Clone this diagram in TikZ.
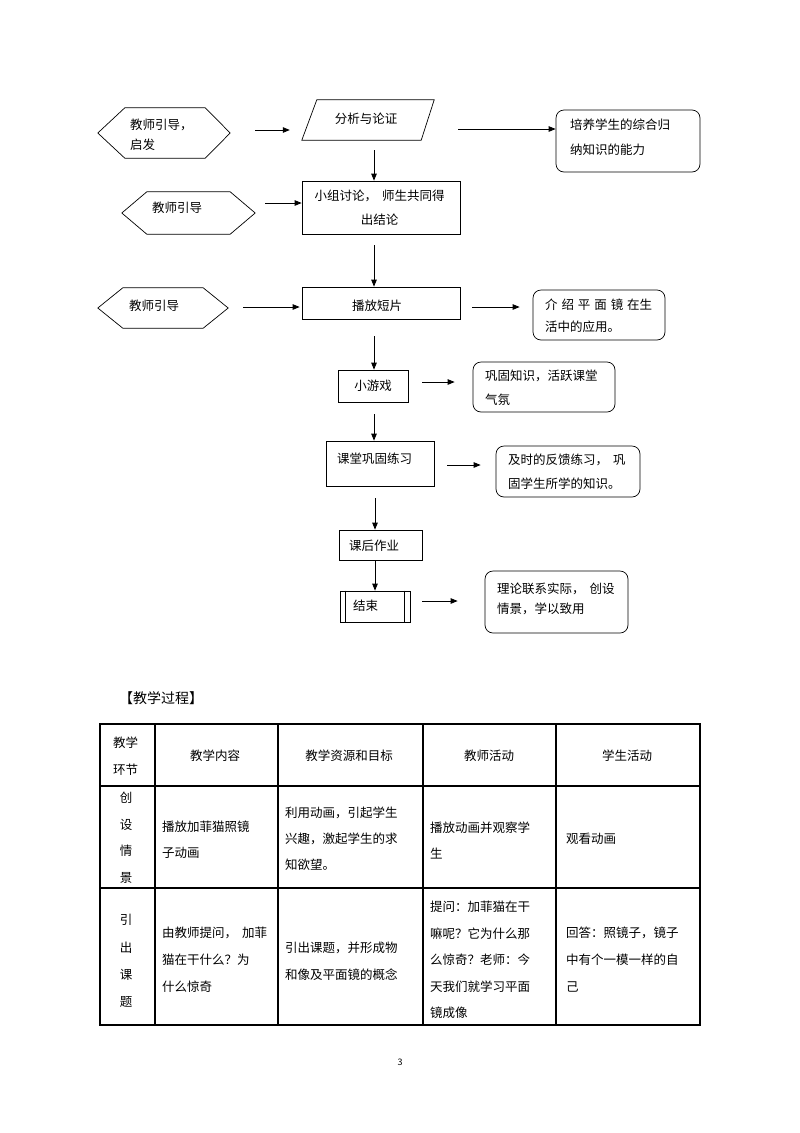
\documentclass[tikz,border=0pt]{standalone}
\usepackage{fontspec}
\setmainfont{Noto Sans CJK SC}
\usetikzlibrary{arrows.meta,calc}
\begin{document}
\begin{tikzpicture}[x=1pt,y=-1pt,
  ln/.style={line width=0.7pt},
  arr/.style={line width=0.8pt,-{Triangle[length=7pt,width=5.5pt]}},
  shp/.style={inner sep=0pt},
  sq/.style={draw,line width=0.7pt,inner sep=0pt},
  rbox/.style={draw,line width=0.7pt,rounded corners=8pt,inner sep=0pt},
  tab/.style={line width=1.3pt},
  t/.style={inner sep=0pt,anchor=west,align=left,font=\fontsize{12.5}{24}\selectfont},
  tc/.style={inner sep=0pt,align=center,font=\fontsize{12.5}{24}\selectfont}]
\useasboundingbox (0,0) rectangle (800,1133);
\fill[white] (0,0) rectangle (800,1133);

% ---------- shapes ----------
\node[shp,minimum width=132pt,minimum height=50pt] (hex1) at (164,133) {};
\draw[ln] (hex1.west) -- ($(hex1.north west)+(27,0)$) -- ($(hex1.north east)+(-25,0)$) -- (hex1.east) -- ($(hex1.south east)+(-25,0)$) -- ($(hex1.south west)+(27,0)$) -- cycle;

\node[shp,minimum width=132pt,minimum height=40pt] (para) at (368,120) {};
\draw[ln] ($(para.north west)+(15,0)$) -- (para.north east) -- ($(para.south east)+(-13,0)$) -- (para.south west) -- cycle;

\node[rbox,minimum width=144pt,minimum height=62pt] (r1) at (628,141) {};
\node[sq,minimum width=158pt,minimum height=53pt] (b2) at (381,207.5) {};

\node[shp,minimum width=133pt,minimum height=42pt] (hex2) at (188.5,213) {};
\draw[ln] (hex2.west) -- ($(hex2.north west)+(25,0)$) -- ($(hex2.north east)+(-25,0)$) -- (hex2.east) -- ($(hex2.south east)+(-25,0)$) -- ($(hex2.south west)+(25,0)$) -- cycle;

\node[sq,minimum width=158pt,minimum height=32pt] (b3) at (381,303) {};

\node[shp,minimum width=130pt,minimum height=40pt] (hex3) at (163,308) {};
\draw[ln] (hex3.west) -- ($(hex3.north west)+(25,0)$) -- ($(hex3.north east)+(-25,0)$) -- (hex3.east) -- ($(hex3.south east)+(-25,0)$) -- ($(hex3.south west)+(25,0)$) -- cycle;

\node[rbox,minimum width=132pt,minimum height=50pt] (r2) at (599,315) {};
\node[sq,minimum width=70pt,minimum height=32pt] (g) at (373,386) {};
\node[rbox,minimum width=142pt,minimum height=50pt] (r3) at (544,387) {};
\node[sq,minimum width=108pt,minimum height=45pt] (p) at (380,463.5) {};
\node[rbox,minimum width=144pt,minimum height=51pt] (r4) at (568,471.5) {};
\node[sq,minimum width=83pt,minimum height=30pt] (hw) at (380.5,545) {};
\node[sq,minimum width=70pt,minimum height=31pt] (e) at (375,606.5) {};
\draw[ln] ($(e.north west)+(6,0)$) -- ($(e.south west)+(6,0)$);
\draw[ln] ($(e.north east)+(-6,0)$) -- ($(e.south east)+(-6,0)$);
\node[rbox,minimum width=143pt,minimum height=62pt] (r5) at (556.5,602) {};

% ---------- texts ----------
\node[t,font=\fontsize{12.5}{20}\selectfont] (thex1) at (130,135) {教师引导，\\启发};
\node[tc] (tpara) at (366,119) {分析与论证};
\node[t,font=\fontsize{12.5}{25}\selectfont] (tr1) at (570,137.5) {培养学生的综合归\\纳知识的能力};
\node[tc] (tb2) at (379.5,208) {小组讨论，\hspace{5pt}师生共同得\\出结论};
\node[tc] (thex2) at (177,208) {教师引导};
\node[tc] (tb3) at (377,306) {播放短片};
\node[tc] (thex3) at (154,306) {教师引导};
\node[t,font=\fontsize{12.5}{22}\selectfont] (tr2) at (545,316) {介\hspace{3.9pt}绍\hspace{3.9pt}平\hspace{3.9pt}面\hspace{3.9pt}镜\hspace{3.9pt}在生\\活中的应用。};
\node[tc] (tg) at (373,386) {小游戏};
\node[t] (tr3) at (485,388) {巩固知识，活跃课堂\\气氛};
\node[t] (tp) at (337,459) {课堂巩固练习};
\node[t] (tr4) at (508,472) {及时的反馈练习，\hspace{5pt}巩\\固学生所学的知识。};
\node[t] (thw) at (349,546) {课后作业};
\node[t] (te) at (353,606) {结束};
\node[t,font=\fontsize{12.5}{20}\selectfont] (tr5) at (497,599) {理论联系实际，\hspace{5pt}创设\\情景，学以致用};

% ---------- connectors ----------
\draw[arr] ($(hex1.east)+(25,-3)$) -- ($(hex1.east -| para.west)+(-12,-3)$);
\draw[arr] ($(para.east)+(24,9)$) -- ($(para.east -| r1.west)+(0,9)$);
\draw[arr] ($(para.south)+(6,10)$) -- ($(b2.north)+(-7,0)$);
\draw[arr] ($(hex2.east)+(10,-10)$) -- ($(hex2.east -| b2.west)+(0,-10)$);
\draw[arr] ($(b2.south)+(-7,11)$) -- ($(b3.north)+(-7,0)$);
\draw[arr] ($(hex3.east)+(15,-1)$) -- ($(hex3.east -| b3.west)+(-2,-1)$);
\draw[arr] ($(b3.east)+(12,4)$) -- ($(b3.east -| r2.west)+(-13,4)$);
\draw[arr] ($(b3.south)+(-7,17)$) -- ($(g.north)+(1,0)$);
\draw[arr] ($(g.east)+(14,-4)$) -- ($(g.east -| r3.west)+(-18,-4)$);
\draw[arr] ($(g.south)+(1,12)$) -- ($(p.north)+(-6,0)$);
\draw[arr] ($(p.east)+(13,1.5)$) -- ($(p.east -| r4.west)+(-15,1.5)$);
\draw[arr] ($(p.south)+(-5,12)$) -- ($(hw.north)+(-5.5,0)$);
\draw[arr] ($(hw.south)+(-5.5,0)$) -- ($(e.north)$);
\draw[arr] ($(e.east)+(12,-5.5)$) -- ($(e.east -| r5.west)+(-27,-5.5)$);

% ---------- heading ----------
\node[inner sep=0pt,anchor=west,font=\fontsize{14}{16}\selectfont] (head) at (119,698) {【教学过程】};

% ---------- table ----------
\draw[tab] (100,724) rectangle (700,1025);
\foreach \xx in {155,278,423,556} \draw[tab] (\xx,724) -- (\xx,1025);
\draw[tab] (100,786) -- (700,786);
\draw[tab] (100,888) -- (700,888);

\node[t,font=\fontsize{12.5}{27}\selectfont] (h1) at (113,756.5) {教学\\环节};
\node[tc] (h2) at (215,756) {教学内容};
\node[tc] (h3) at (349,756) {教学资源和目标};
\node[tc] (h4) at (489,756) {教师活动};
\node[tc] (h5) at (627,756) {学生活动};

\node[tc,font=\fontsize{12.5}{26.5}\selectfont] (c11) at (126,838) {创\\设\\情\\景};
\node[t,font=\fontsize{12.5}{26}\selectfont] (c12) at (162,840) {播放加菲猫照镜\\子动画};
\node[t,font=\fontsize{12.5}{26}\selectfont] (c13) at (285,839) {利用动画，引起学生\\兴趣，激起学生的求\\知欲望。};
\node[t,font=\fontsize{12.5}{26}\selectfont] (c14) at (430,840) {播放动画并观察学\\生};
\node[t] (c15) at (566,839) {观看动画};

\node[tc,font=\fontsize{12.5}{27.3}\selectfont] (c21) at (126,961) {引\\出\\课\\题};
\node[t,font=\fontsize{12.5}{27}\selectfont] (c22) at (162,960) {由教师提问，\hspace{5pt}加菲\\猫在干什么？为\\什么惊奇};
\node[t,font=\fontsize{12.5}{27}\selectfont] (c23) at (285,961.5) {引出课题，并形成物\\和像及平面镜的概念};
\node[t,font=\fontsize{12.5}{26.5}\selectfont] (c24) at (430,960) {提问：加菲猫在干\\嘛呢？它为什么那\\么惊奇？老师：今\\天我们就学习平面\\镜成像};
\node[t,font=\fontsize{12.5}{27}\selectfont] (c25) at (566,960) {回答：照镜子，镜子\\中有个一模一样的自\\己};

\node[inner sep=0pt,font=\fontsize{9}{10}\selectfont] (pg) at (400,1062) {3};
\end{tikzpicture}
\end{document}
